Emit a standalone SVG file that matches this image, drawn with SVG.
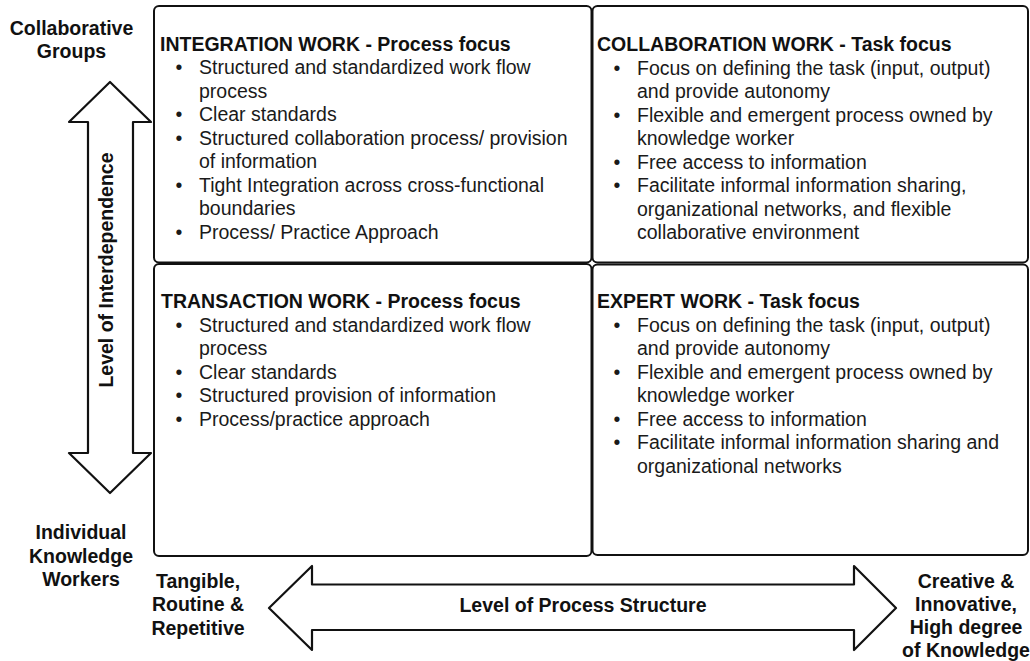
<svg xmlns="http://www.w3.org/2000/svg" width="1030" height="661" viewBox="0 0 1030 661">
<style>
.box{fill:#fff;stroke:#111;stroke-width:2}
.arr{fill:#fff;stroke:#111;stroke-width:2.2;stroke-linejoin:round}
text{font-family:"Liberation Sans",Arial,sans-serif;font-size:19.5px;fill:#1a1a1a}
.b{font-weight:bold;fill:#111}
.c{text-anchor:middle}
</style>
<rect width="1030" height="661" fill="#fff"/>
<g id="connectors">
<path class="arr" d="M110,82 L151,122 L133,122 L133,453 L151,453 L110,493 L69,453 L88,453 L88,122 L69,122 Z"/>
<path class="arr" d="M269,608 L312,566 L312,584.5 L854,584.5 L854,566 L896,608 L854,650 L854,630 L312,630 L312,650 Z"/>
<text class="b c" transform="translate(113,270) rotate(-90)">Level of Interdependence</text>
<text class="b c" x="583" y="611.5">Level of Process Structure</text>
</g>
<g id="label-collab-groups">
<text class="b c" x="71.5" y="35">Collaborative</text>
<text class="b c" x="71.5" y="58">Groups</text>
</g>
<g id="label-individual">
<text class="b c" x="81" y="539">Individual</text>
<text class="b c" x="81" y="562.5">Knowledge</text>
<text class="b c" x="81" y="586">Workers</text>
</g>
<g id="label-tangible">
<text class="b c" x="198" y="587.5">Tangible,</text>
<text class="b c" x="198" y="611">Routine &amp;</text>
<text class="b c" x="198" y="634.5">Repetitive</text>
</g>
<g id="label-creative">
<text class="b c" x="966" y="587.5">Creative &amp;</text>
<text class="b c" x="966" y="610.5">Innovative,</text>
<text class="b c" x="966" y="634">High degree</text>
<text class="b c" x="966" y="657">of Knowledge</text>
</g>
<g id="integration">
<rect class="box" x="154" y="6" width="437.5" height="256.5" rx="5"/>
<text class="b" x="160" y="50.5">INTEGRATION WORK - Process focus</text>
<text class="c" x="179" y="74">•</text><text x="199" y="74">Structured and standardized work flow</text>
<text x="199" y="97.5">process</text>
<text class="c" x="179" y="121">•</text><text x="199" y="121">Clear standards</text>
<text class="c" x="179" y="144.5">•</text><text x="199" y="144.5">Structured collaboration process/ provision</text>
<text x="199" y="168">of information</text>
<text class="c" x="179" y="191.5">•</text><text x="199" y="191.5">Tight Integration across cross-functional</text>
<text x="199" y="215">boundaries</text>
<text class="c" x="179" y="238.5">•</text><text x="199" y="238.5">Process/ Practice Approach</text>
</g>
<g id="collaboration">
<rect class="box" x="592.5" y="6" width="435.5" height="256.5" rx="5"/>
<text class="b" x="597" y="51">COLLABORATION WORK - Task focus</text>
<text class="c" x="617" y="74.5">•</text><text x="637" y="74.5">Focus on defining the task (input, output)</text>
<text x="637" y="98">and provide autonomy</text>
<text class="c" x="617" y="121.5">•</text><text x="637" y="121.5">Flexible and emergent process owned by</text>
<text x="637" y="145">knowledge worker</text>
<text class="c" x="617" y="168.5">•</text><text x="637" y="168.5">Free access to information</text>
<text class="c" x="617" y="192">•</text><text x="637" y="192">Facilitate informal information sharing,</text>
<text x="637" y="215.5">organizational networks, and flexible</text>
<text x="637" y="239">collaborative environment</text>
</g>
<g id="transaction">
<rect class="box" x="154" y="264" width="437.5" height="292" rx="5"/>
<text class="b" x="161" y="308">TRANSACTION WORK - Process focus</text>
<text class="c" x="179" y="331.5">•</text><text x="199" y="331.5">Structured and standardized work flow</text>
<text x="199" y="355">process</text>
<text class="c" x="179" y="378.5">•</text><text x="199" y="378.5">Clear standards</text>
<text class="c" x="179" y="402">•</text><text x="199" y="402">Structured provision of information</text>
<text class="c" x="179" y="425.5">•</text><text x="199" y="425.5">Process/practice approach</text>
</g>
<g id="expert">
<rect class="box" x="592.5" y="264.5" width="435.5" height="290.5" rx="5"/>
<text class="b" x="597" y="308">EXPERT WORK - Task focus</text>
<text class="c" x="617" y="331.5">•</text><text x="637" y="331.5">Focus on defining the task (input, output)</text>
<text x="637" y="355">and provide autonomy</text>
<text class="c" x="617" y="378.5">•</text><text x="637" y="378.5">Flexible and emergent process owned by</text>
<text x="637" y="402">knowledge worker</text>
<text class="c" x="617" y="425.5">•</text><text x="637" y="425.5">Free access to information</text>
<text class="c" x="617" y="449">•</text><text x="637" y="449">Facilitate informal information sharing and</text>
<text x="637" y="472.5">organizational networks</text>
</g>
</svg>
